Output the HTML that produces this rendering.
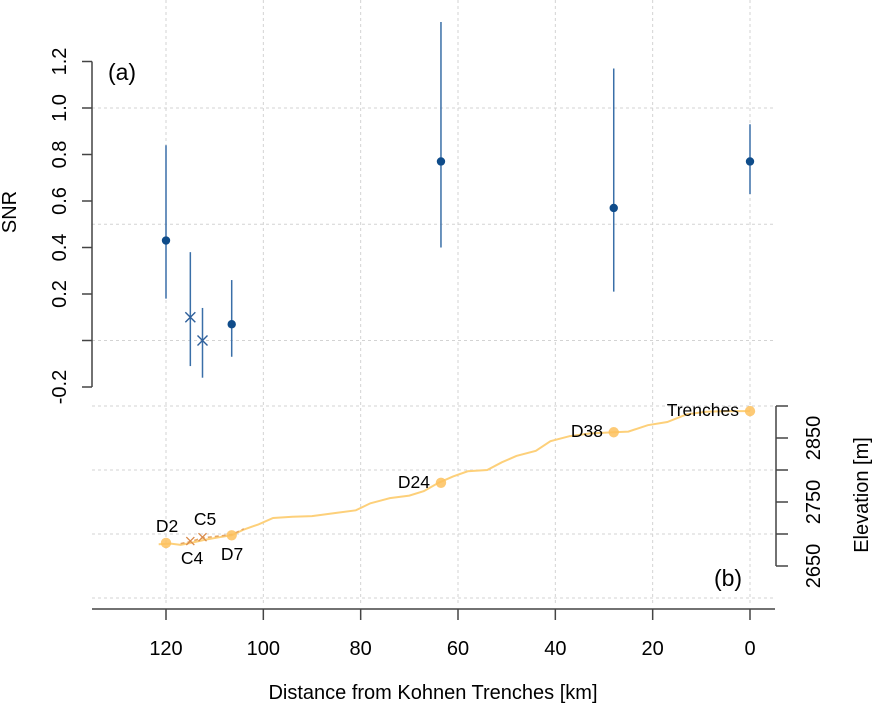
<!DOCTYPE html>
<html><head><meta charset="utf-8"><style>
body{margin:0;background:#fff}
svg text{font-family:"Liberation Sans",sans-serif;fill:#000}
</style></head><body>
<svg id="c" width="872" height="706"></svg>
<script>
const snrStations=["D2","C4","C5","D7","D24","D38","Trenches"];
const snrDist=[120,115,112.5,106.5,63.5,28,0];
const snrVal=[0.43,0.10,0.00,0.07,0.77,0.57,0.77];
const snrLow=[0.18,-0.11,-0.16,-0.07,0.40,0.21,0.63];
const snrHigh=[0.84,0.38,0.14,0.26,1.37,1.17,0.93];
const snrCross=[false,true,true,false,false,false,false];
const snrTicks=[-0.2,0,0.2,0.4,0.6,0.8,1.0,1.2];
const xTicks=[120,100,80,60,40,20,0];
const elevTicks=[2650,2700,2750,2800,2850,2900];
const elevLabels=[2650,2750,2850];
const stnNames=["D2","D7","D24","D38","Trenches"];
const stnDist=[120,106.5,63.5,28,0];
const stnElev=[2686,2698,2780,2859,2892];
const coreNames=["C4","C5"];
const coreDist=[115,112.5];
const coreElev=[2689,2695];
const profDist=[121.5,119,117,115,112,109,106.5,104,101,98,94,90,85,81,78,74,70,67,64,61,58,54,51,48,44,41,37,33,28,25,21,17,13,9,5,0];
const profElev=[2684,2685,2683,2686,2691,2695,2698,2707,2715,2725,2727,2728,2733,2737,2748,2756,2760,2767,2780,2790,2798,2800,2812,2822,2830,2845,2853,2857,2859,2860,2870,2875,2887,2891,2892,2892];
const profDashDist=[117,115,112.5,110,106.5,104];
const profDashElev=[2685,2688,2694,2696,2699,2708];

const X=d=>750-d*(584/120);
const YS=v=>340.5-v*232.5;
const YE=e=>566-(e-2650)*0.64;
const svg=document.getElementById('c');const NS="http://www.w3.org/2000/svg";
function mk(t,a,name,par){const e=document.createElementNS(NS,t);for(const k in a)e.setAttribute(k,a[k]);


(par||svg).appendChild(e);return e;}
function txt(x,y,s,name,o){const e=mk('text',Object.assign({x:x,y:y,'font-size':20,'text-anchor':'middle'},o||{}),name);e.textContent=s;return e;}
// grid
[120,100,80,60,40,20,0].forEach(d=>mk('line',{x1:X(d),x2:X(d),y1:0,y2:605,stroke:'#d3d3d3','stroke-dasharray':'3,3'},'grid-vertical'));
[1.0,0.5,0].forEach(v=>mk('line',{x1:92,x2:775,y1:YS(v),y2:YS(v),stroke:'#d3d3d3','stroke-dasharray':'3,3'},'grid-horizontal-snr'));
[2900,2800,2700,2600].forEach(e=>mk('line',{x1:92,x2:775,y1:YE(e),y2:YE(e),stroke:'#d3d3d3','stroke-dasharray':'3,3'},'grid-horizontal-elevation'));
// left axis
mk('line',{x1:92,x2:92,y1:YS(1.2),y2:YS(-0.2),stroke:'#444','stroke-width':1.5},'snr-axis-line');
snrTicks.forEach(v=>{mk('line',{x1:82,x2:92,y1:YS(v),y2:YS(v),stroke:'#444','stroke-width':1.5},'snr-tick');
 if(v!==0)txt(0,0,v.toFixed(1),'snr-tick-label',{transform:`translate(66,${YS(v)}) rotate(-90)`});});
txt(0,0,'SNR','snr-axis-title',{transform:'translate(16,212) rotate(-90)'});
// right axis
mk('line',{x1:776,x2:776,y1:YE(2900),y2:YE(2650),stroke:'#444','stroke-width':1.5},'elevation-axis-line');
elevTicks.forEach(e=>mk('line',{x1:776,x2:788,y1:YE(e),y2:YE(e),stroke:'#444','stroke-width':1.5},'elevation-tick'));
elevLabels.forEach(e=>txt(0,0,String(e),'elevation-tick-label',{transform:`translate(820,${YE(e)}) rotate(-90)`}));
txt(0,0,'Elevation [m]','elevation-axis-title',{transform:'translate(868,495) rotate(-90)'});
// bottom axis
mk('line',{x1:92,x2:775,y1:609,y2:609,stroke:'#444','stroke-width':1.5},'x-axis-line');
xTicks.forEach(d=>{mk('line',{x1:X(d),x2:X(d),y1:609,y2:620,stroke:'#444','stroke-width':1.5},'x-tick');
 txt(X(d),655,String(d),'x-tick-label');});
txt(433,699,'Distance from Kohnen Trenches [km]','x-axis-title');
txt(122,80,'(a)','panel-a-label',{'font-size':23});
txt(728,586,'(b)','panel-b-label',{'font-size':23});
// SNR series
snrDist.forEach((d,i)=>{const x=X(d);
 mk('line',{x1:x,x2:x,y1:YS(snrLow[i]),y2:YS(snrHigh[i]),stroke:'#3a6fa8','stroke-width':1.5},'snr-error-bar');
 const y=YS(snrVal[i]);
 if(snrCross[i]){mk('path',{d:`M${x-5} ${y-5}L${x+5} ${y+5}M${x-5} ${y+5}L${x+5} ${y-5}`,stroke:'#2e5f9a','stroke-width':1.4,fill:'none'},'snr-point-core');}
 else mk('circle',{cx:x,cy:y,r:4.2,fill:'#0f4c8a'},'snr-point');
});
// profile
mk('polyline',{points:profDist.map((d,i)=>X(d)+','+YE(profElev[i])).join(' '),fill:'none',stroke:'#fdd07a','stroke-width':2},'elevation-profile');
mk('polyline',{points:profDashDist.map((d,i)=>X(d)+','+YE(profDashElev[i])).join(' '),fill:'none',stroke:'#e8a862','stroke-width':1.6,'stroke-dasharray':'4,3'},'elevation-profile-cores');
stnDist.forEach((d,i)=>mk('circle',{cx:X(d),cy:YE(stnElev[i]),r:5.2,fill:'#fdc15e','fill-opacity':0.85},'station-point'));
coreDist.forEach((d,i)=>{const x=X(d),y=YE(coreElev[i]);mk('path',{d:`M${x-4} ${y-4}L${x+4} ${y+4}M${x-4} ${y+4}L${x+4} ${y-4}`,stroke:'#d98a4a','stroke-width':1.3},'core-point');});
const lab=[[167,532,'D2','middle'],[232,560,'D7','middle'],[430,488,'D24','end'],[603,437,'D38','end'],[739,416,'Trenches','end'],[192,564,'C4','middle'],[205,525,'C5','middle']];
lab.forEach(l=>txt(l[0],l[1],l[2],'station-label',{'font-size':17.5,'text-anchor':l[3]}));
</script>
</body></html>
